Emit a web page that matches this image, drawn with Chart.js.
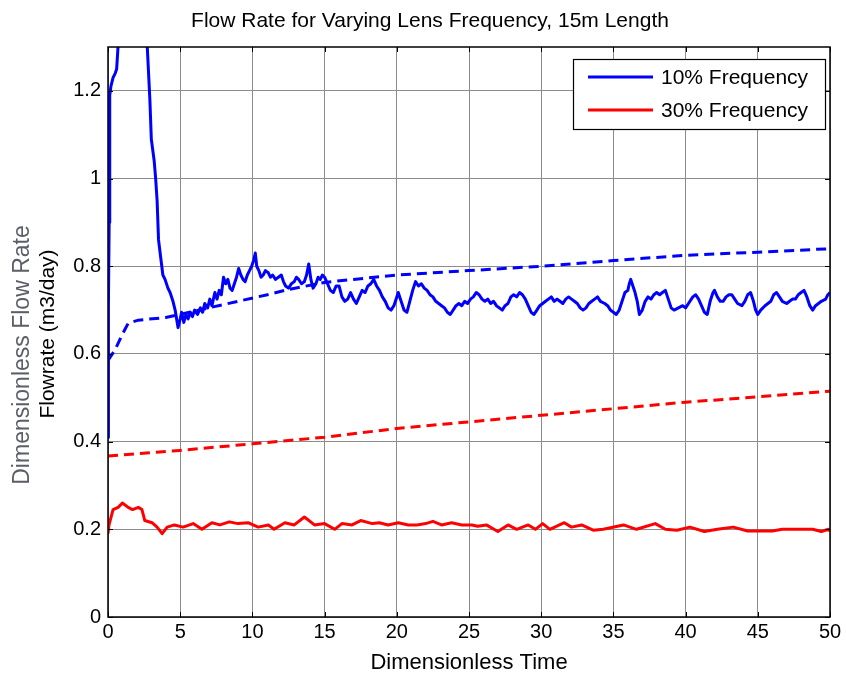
<!DOCTYPE html>
<html>
<head>
<meta charset="utf-8">
<script src="https://cdn.jsdelivr.net/npm/chart.js@4.4.1/dist/chart.umd.min.js"></script>
<style>
    html, body { margin: 0; padding: 0; background: #ffffff; }
    #wrap { width: 846px; height: 680px; }
</style>
</head>
<body>
<div id="wrap"><canvas id="flowChart" width="846" height="680"></canvas></div>
<script>
// Flow rate curves

const xTicks = [0, 5, 10, 15, 20, 25, 30, 35, 40, 45, 50];
const yTicks = [0, 0.2, 0.4, 0.6, 0.8, 1, 1.2];

const seriesNames = ['10% Frequency', '30% Frequency'];

// 10% frequency, solid
const tenSolidX = [0, 0.03, 0.08, 0.12, 0.2, 0.35, 0.5, 0.6, 0.75, 1.2, 2.0, 2.6, 2.75, 2.9, 3.0, 3.2, 3.3, 3.4, 3.5, 3.65,
    3.8, 3.95, 4.15, 4.3, 4.5, 4.65, 4.85, 5.0, 5.1, 5.25, 5.4, 5.55, 5.7, 5.85, 6.0, 6.2, 6.4, 6.55, 6.7, 6.9, 7.05, 7.2,
    7.4, 7.55, 7.7, 7.85, 8.0, 8.15, 8.3, 8.45, 8.6, 8.75, 8.9, 9.05, 9.2, 9.35, 9.5, 9.65, 9.8, 9.95, 10.1, 10.2, 10.3, 10.45,
    10.6, 10.75, 10.9, 11.1, 11.25, 11.4, 11.6, 11.8, 12.0, 12.15, 12.3, 12.5, 12.7, 12.9, 13.05, 13.2, 13.4, 13.6, 13.75, 13.9,
    14.05, 14.2, 14.4, 14.55, 14.7, 14.85, 15.0, 15.2, 15.4, 15.6, 15.8, 16.0, 16.2, 16.4, 16.6, 16.8, 17.0, 17.2, 17.4, 17.6,
    17.8, 18.0, 18.2, 18.4, 18.6, 18.8, 19.0, 19.2, 19.4, 19.6, 19.8, 20.0, 20.1, 20.3, 20.5, 20.7, 20.9, 21.1, 21.3, 21.5,
    21.7, 21.9, 22.1, 22.3, 22.5, 22.7, 22.9, 23.1, 23.3, 23.5, 23.7, 23.9, 24.1, 24.3, 24.5, 24.7, 24.9, 25.1, 25.3, 25.5,
    25.7, 25.9, 26.1, 26.3, 26.5, 26.7, 26.9, 27.1, 27.3, 27.5, 27.7, 27.9, 28.1, 28.3, 28.5, 28.7, 28.9, 29.1, 29.3, 29.5,
    29.7, 29.9, 30.1, 30.3, 30.5, 30.7, 30.9, 31.1, 31.3, 31.5, 31.7, 31.9, 32.1, 32.3, 32.5, 32.7, 32.9, 33.1, 33.3, 33.5,
    33.7, 33.9, 34.1, 34.4, 34.6, 34.8, 35.0, 35.2, 35.4, 35.6, 35.8, 36.0, 36.1, 36.2, 36.35, 36.5, 36.65, 36.8, 37.0, 37.2,
    37.4, 37.6, 37.8, 38.0, 38.2, 38.4, 38.6, 38.8, 39.0, 39.2, 39.5, 39.8, 40.0, 40.2, 40.5, 40.7, 40.9, 41.1, 41.3, 41.5,
    41.7, 41.9, 42.0, 42.2, 42.4, 42.6, 42.8, 43.0, 43.2, 43.4, 43.6, 43.9, 44.1, 44.3, 44.5, 44.7, 44.85, 45.0, 45.2, 45.5,
    45.7, 45.9, 46.1, 46.3, 46.5, 46.7, 47.0, 47.2, 47.4, 47.6, 47.8, 48.0, 48.2, 48.4, 48.6, 48.8, 49.0, 49.2, 49.4, 49.7,
    49.85, 50];
const tenSolidY = [0.41, 0.71, 0.9, 1.19, 1.21, 1.23, 1.24, 1.25, 1.33, 1.55, 1.6, 1.38, 1.28, 1.18, 1.09, 1.04, 1.0, 0.95, 0.86, 0.82,
    0.78, 0.77, 0.75, 0.74, 0.72, 0.70, 0.66, 0.68, 0.695, 0.672, 0.69, 0.68, 0.695, 0.685, 0.70, 0.69, 0.705, 0.695, 0.715, 0.705, 0.725, 0.71,
    0.74, 0.725, 0.745, 0.735, 0.775, 0.76, 0.77, 0.75, 0.745, 0.76, 0.775, 0.795, 0.78, 0.77, 0.765, 0.78, 0.79, 0.80, 0.815, 0.83, 0.80, 0.79,
    0.775, 0.78, 0.79, 0.785, 0.775, 0.78, 0.77, 0.775, 0.78, 0.765, 0.755, 0.75, 0.76, 0.765, 0.775, 0.77, 0.76, 0.765, 0.78, 0.805,
    0.77, 0.75, 0.76, 0.775, 0.77, 0.78, 0.775, 0.76, 0.745, 0.74, 0.755, 0.755, 0.73, 0.72, 0.725, 0.74, 0.725, 0.715, 0.73, 0.745,
    0.74, 0.755, 0.76, 0.77, 0.755, 0.745, 0.73, 0.72, 0.705, 0.70, 0.71, 0.73, 0.74, 0.72, 0.70, 0.695, 0.72, 0.745, 0.765, 0.755,
    0.76, 0.75, 0.745, 0.735, 0.73, 0.72, 0.715, 0.71, 0.705, 0.695, 0.69, 0.70, 0.71, 0.715, 0.71, 0.72, 0.715, 0.725, 0.73, 0.74,
    0.735, 0.725, 0.72, 0.725, 0.715, 0.72, 0.71, 0.705, 0.70, 0.71, 0.715, 0.73, 0.735, 0.73, 0.74, 0.735, 0.725, 0.71, 0.695, 0.69,
    0.70, 0.71, 0.715, 0.72, 0.725, 0.73, 0.72, 0.725, 0.72, 0.715, 0.725, 0.73, 0.725, 0.72, 0.715, 0.705, 0.70, 0.705, 0.715, 0.72,
    0.725, 0.73, 0.72, 0.715, 0.71, 0.70, 0.695, 0.69, 0.70, 0.72, 0.74, 0.745, 0.76, 0.77, 0.755, 0.74, 0.72, 0.69, 0.70, 0.72,
    0.73, 0.725, 0.735, 0.74, 0.735, 0.74, 0.745, 0.725, 0.705, 0.70, 0.705, 0.71, 0.705, 0.715, 0.73, 0.735, 0.725, 0.71, 0.695, 0.69,
    0.72, 0.74, 0.745, 0.73, 0.72, 0.72, 0.73, 0.735, 0.735, 0.725, 0.715, 0.71, 0.72, 0.735, 0.74, 0.72, 0.70, 0.69, 0.70, 0.71,
    0.715, 0.72, 0.735, 0.74, 0.73, 0.72, 0.715, 0.72, 0.725, 0.725, 0.735, 0.74, 0.745, 0.73, 0.71, 0.70, 0.71, 0.715, 0.72, 0.725,
    0.735, 0.74];

// 10% frequency, dashed
const tenDashX = [0, 0.5, 1.0, 1.4, 2.1, 4.0, 5, 6.7, 9, 11.3, 12.5, 15, 17, 20, 25, 30, 35, 40, 45, 50];
const tenDashY = [0.585, 0.61, 0.645, 0.67, 0.677, 0.683, 0.69, 0.703, 0.72, 0.737, 0.747, 0.763, 0.77, 0.78, 0.79, 0.80, 0.813, 0.825, 0.832, 0.84];

// 30% frequency, dashed
const thirtyDashX = [0, 5, 10, 15, 20, 25, 30, 35, 40, 45, 50];
const thirtyDashY = [0.367, 0.38, 0.395, 0.41, 0.43, 0.445, 0.46, 0.475, 0.49, 0.502, 0.515];

// 30% frequency, solid
const thirtySolidX = [0, 0.07, 0.35, 0.7, 1.0, 1.4, 1.7, 2.1, 2.35, 2.55, 3.05, 3.4, 3.75, 4.1, 4.6, 5.2, 5.9, 6.5, 7.2, 7.75,
    8.4, 9.0, 9.7, 10.4, 11.1, 11.5, 12.25, 12.9, 13.6, 14.3, 15.0, 15.7, 16.2, 16.9, 17.5, 18.3, 18.8, 19.4, 20.1, 20.8,
    21.4, 22.0, 22.5, 23.1, 23.8, 24.5, 25.2, 25.6, 26.2, 27.0, 27.7, 28.3, 29.1, 29.6, 30.1, 30.6, 31.6, 32.1, 32.8, 33.6,
    34.3, 35.7, 36.6, 37.9, 38.6, 39.4, 40.3, 41.3, 42.2, 43.3, 44.3, 45.1, 46.0, 46.7, 47.4, 48.1, 48.8, 49.4, 49.9, 50];
const thirtySolidY = [0.19, 0.21, 0.245, 0.25, 0.26, 0.25, 0.245, 0.25, 0.245, 0.22, 0.215, 0.205, 0.19, 0.205, 0.21, 0.205, 0.213, 0.2, 0.215, 0.21,
    0.217, 0.213, 0.215, 0.205, 0.21, 0.2, 0.215, 0.21, 0.228, 0.21, 0.213, 0.2, 0.213, 0.21, 0.22, 0.213, 0.215, 0.21, 0.215, 0.21,
    0.21, 0.213, 0.218, 0.21, 0.215, 0.21, 0.21, 0.207, 0.21, 0.195, 0.21, 0.2, 0.21, 0.2, 0.213, 0.2, 0.215, 0.205, 0.21, 0.198,
    0.2, 0.21, 0.2, 0.213, 0.2, 0.198, 0.205, 0.195, 0.2, 0.205, 0.196, 0.196, 0.196, 0.2, 0.2, 0.2, 0.2, 0.195, 0.2, 0.196];

const BLUE = '#0000ff';
const RED = '#ff0000';
const FONT = "Arial, 'Liberation Sans', sans-serif";

function toPoints(xs, ys) {
    return xs.map(function (x, i) { return { x: x, y: ys[i] }; });
}

// frame, inward ticks, legend and side labels in MATLAB style
const matlabDecor = {
    id: 'matlabDecor',
    afterDraw: function (chart) {
        const ctx = chart.ctx;
        const a = chart.chartArea;
        const xs = chart.scales.x;
        const ys = chart.scales.y;
        const tl = 5;

        ctx.save();
        ctx.strokeStyle = '#000000';
        ctx.lineWidth = 1;
        ctx.beginPath();
        xTicks.forEach(function (v) {
            const px = Math.round(xs.getPixelForValue(v)) + 0.5;
            ctx.moveTo(px, a.bottom); ctx.lineTo(px, a.bottom - tl);
            ctx.moveTo(px, a.top); ctx.lineTo(px, a.top + tl);
        });
        yTicks.forEach(function (v) {
            const py = Math.round(ys.getPixelForValue(v)) + 0.5;
            ctx.moveTo(a.left, py); ctx.lineTo(a.left + tl, py);
            ctx.moveTo(a.right, py); ctx.lineTo(a.right - tl, py);
        });
        ctx.stroke();
        ctx.lineWidth = 1.5;
        ctx.strokeRect(a.left, a.top, a.right - a.left, a.bottom - a.top);

        // legend box
        const lx = 573, ly = 59, lw = 252, lh = 70;
        ctx.fillStyle = '#ffffff';
        ctx.fillRect(lx, ly, lw, lh);
        ctx.lineWidth = 1.2;
        ctx.strokeRect(lx + 0.5, ly + 0.5, lw, lh);
        const rows = [[seriesNames[0], BLUE, 77], [seriesNames[1], RED, 110]];
        ctx.font = '21px ' + FONT;
        ctx.textBaseline = 'middle';
        ctx.textAlign = 'left';
        rows.forEach(function (r) {
            ctx.strokeStyle = r[1];
            ctx.lineWidth = 3;
            ctx.beginPath();
            ctx.moveTo(588, r[2]); ctx.lineTo(653, r[2]);
            ctx.stroke();
            ctx.fillStyle = '#000000';
            ctx.fillText(r[0], 661, r[2] + 1);
        });

        // title
        ctx.textAlign = 'center';
        ctx.fillStyle = '#000000';
        ctx.font = '21px ' + FONT;
        ctx.fillText('Flow Rate for Varying Lens Frequency, 15m Length', 430, 21);

        // overlapping y labels
        ctx.save();
        ctx.translate(23, 355);
        ctx.rotate(-Math.PI / 2);
        ctx.font = '23px ' + FONT;
        ctx.fillStyle = '#5b5e66';
        ctx.fillText('Dimensionless Flow Rate', 0, 0);
        ctx.restore();

        ctx.save();
        ctx.translate(48, 334);
        ctx.rotate(-Math.PI / 2);
        ctx.font = '21px ' + FONT;
        ctx.fillStyle = '#000000';
        ctx.fillText('Flowrate (m3/day)', 0, 0);
        ctx.restore();

        ctx.restore();
    }
};

const ctx = document.getElementById('flowChart').getContext('2d');

new Chart(ctx, {
    type: 'line',
    data: {
        datasets: [{
            label: seriesNames[0],
            data: toPoints(tenSolidX, tenSolidY),
            borderColor: BLUE,
            borderWidth: 3
        }, {
            label: seriesNames[1],
            data: toPoints(thirtySolidX, thirtySolidY),
            borderColor: RED,
            borderWidth: 3
        }, {
            label: seriesNames[0] + ' (dashed)',
            data: toPoints(tenDashX, tenDashY),
            borderColor: BLUE,
            borderWidth: 3,
            borderDash: [10, 6]
        }, {
            label: seriesNames[1] + ' (dashed)',
            data: toPoints(thirtyDashX, thirtyDashY),
            borderColor: RED,
            borderWidth: 3,
            borderDash: [10, 6]
        }]
    },
    options: {
        responsive: false,
        animation: false,
        layout: {
            padding: { left: 0, top: 47, right: 16, bottom: 0 }
        },
        elements: {
            point: { radius: 0, hoverRadius: 0 },
            line: { tension: 0, borderCapStyle: 'butt', borderJoinStyle: 'round' }
        },
        plugins: {
            legend: { display: false },
            tooltip: { enabled: false }
        },
        scales: {
            x: {
                type: 'linear',
                min: 0,
                max: 50,
                afterFit: function (scale) { scale.height = 63; },
                afterBuildTicks: function (scale) {
                    scale.ticks = xTicks.map(function (v) { return { value: v }; });
                },
                grid: {
                    color: '#8c8c8c',
                    lineWidth: 1,
                    drawTicks: false
                },
                border: { display: false },
                ticks: {
                    color: '#000000',
                    padding: 3,
                    maxRotation: 0,
                    font: { size: 20, family: FONT }
                },
                title: {
                    display: true,
                    text: 'Dimensionless Time',
                    color: '#000000',
                    padding: { top: 0, bottom: 4 },
                    font: { size: 22, family: FONT }
                }
            },
            y: {
                type: 'linear',
                min: 0,
                max: 1.3,
                afterFit: function (scale) { scale.width = 108; },
                afterBuildTicks: function (scale) {
                    scale.ticks = yTicks.map(function (v) { return { value: v }; });
                },
                grid: {
                    color: '#8c8c8c',
                    lineWidth: 1,
                    drawTicks: false
                },
                border: { display: false },
                ticks: {
                    color: '#000000',
                    padding: 7,
                    font: { size: 20, family: FONT },
                    callback: function (value) { return String(value); }
                }
            }
        }
    },
    plugins: [matlabDecor]
});
</script>
</body>
</html>
